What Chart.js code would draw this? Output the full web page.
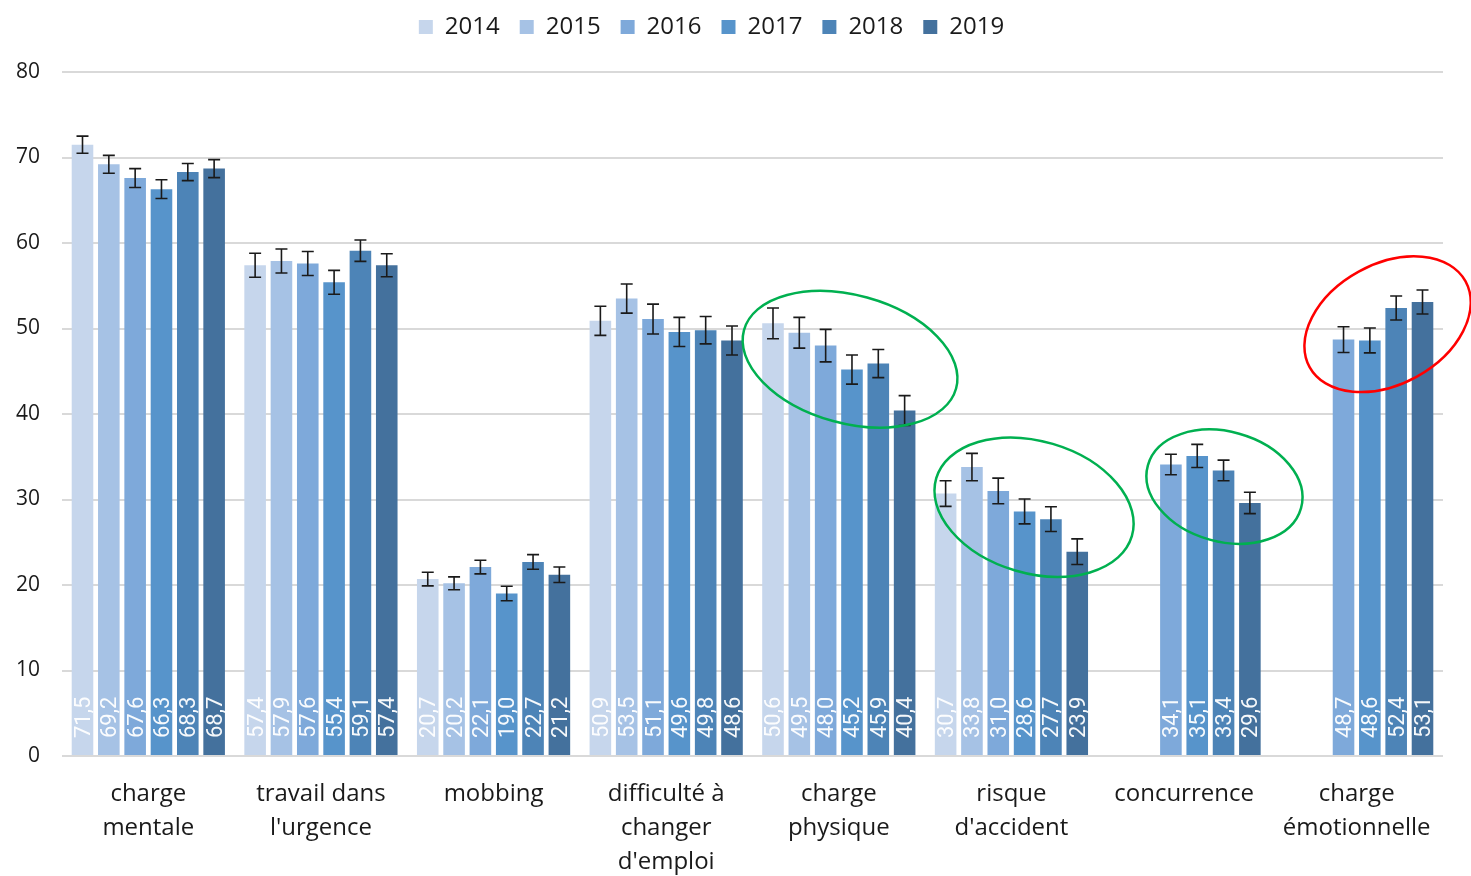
<!DOCTYPE html>
<html lang="fr">
<head>
<meta charset="utf-8">
<title>Contraintes de travail 2014-2019</title>
<script src="https://cdn.jsdelivr.net/npm/chart.js@4"></script>
<style>
    html, body { margin: 0; padding: 0; background: #ffffff; }
    #contenedor { width: 1471px; height: 876px; position: relative; }
</style>
</head>
<body>
<div id="contenedor"><canvas id="grafica"></canvas></div>
<script>
// Catégories (axe horizontal)
const categories = [
    ['charge', 'mentale'],
    ['travail dans', "l'urgence"],
    'mobbing',
    ['difficulté à', 'changer', "d'emploi"],
    ['charge', 'physique'],
    ['risque', "d'accident"],
    'concurrence',
    ['charge', 'émotionnelle']
];

const annees = ['2014', '2015', '2016', '2017', '2018', '2019'];

// Valeurs par année (null = pas de donnée)
const valeurs2014 = [71.5, 57.4, 20.7, 50.9, 50.6, 30.7, null, null];
const valeurs2015 = [69.2, 57.9, 20.2, 53.5, 49.5, 33.8, null, null];
const valeurs2016 = [67.6, 57.6, 22.1, 51.1, 48.0, 31.0, 34.1, 48.7];
const valeurs2017 = [66.3, 55.4, 19.0, 49.6, 45.2, 28.6, 35.1, 48.6];
const valeurs2018 = [68.3, 59.1, 22.7, 49.8, 45.9, 27.7, 33.4, 52.4];
const valeurs2019 = [68.7, 57.4, 21.2, 48.6, 40.4, 23.9, 29.6, 53.1];

// Demi-largeur des intervalles de confiance
const erreurs2014 = [1.0, 1.4, 0.8, 1.7, 1.8, 1.5, null, null];
const erreurs2015 = [1.05, 1.4, 0.75, 1.7, 1.8, 1.6, null, null];
const erreurs2016 = [1.1, 1.4, 0.8, 1.75, 1.9, 1.5, 1.2, 1.5];
const erreurs2017 = [1.1, 1.4, 0.85, 1.7, 1.7, 1.45, 1.35, 1.45];
const erreurs2018 = [1.0, 1.25, 0.85, 1.6, 1.65, 1.45, 1.2, 1.4];
const erreurs2019 = [1.05, 1.35, 0.9, 1.7, 1.75, 1.5, 1.25, 1.4];

// Graduations de l'axe vertical
const ticksY = [0, 10, 20, 30, 40, 50, 60, 70, 80];

const valeurs = [valeurs2014, valeurs2015, valeurs2016, valeurs2017, valeurs2018, valeurs2019];
const erreurs = [erreurs2014, erreurs2015, erreurs2016, erreurs2017, erreurs2018, erreurs2019];
const couleurs = ['#c6d6ec', '#a6c2e5', '#7ea9da', '#5794cb', '#4d84b7', '#44719d'];

// Ellipses d'annotation (centre en index de catégorie / valeur, rayons en px)
const ellipses = [
    { x: 4.065, y: 46.4, rx: 110, ry: 64, angle: 15.4, couleur: '#00b050' },
    { x: 5.131, y: 29.1, rx: 102, ry: 66, angle: 16.5, couleur: '#00b050' },
    { x: 6.234, y: 31.5, rx: 79.5, ry: 55, angle: 15.6, couleur: '#00b050' },
    { x: 7.179, y: 50.5, rx: 89, ry: 60, angle: -28.8, couleur: '#ff0000' }
];

// Barres d'erreur + étiquettes de valeur verticales
const pluginErreurs = {
    id: 'barresErreur',
    afterDatasetsDraw(chart) {
        const ctx = chart.ctx;
        const echelleY = chart.scales.y;
        chart.data.datasets.forEach((ds, i) => {
            const meta = chart.getDatasetMeta(i);
            meta.data.forEach((barre, j) => {
                const v = ds.data[j];
                if (v === null || v === undefined) return;

                // étiquette
                ctx.save();
                ctx.translate(barre.x + 2, echelleY.bottom - 18);
                ctx.rotate(-Math.PI / 2);
                ctx.fillStyle = 'rgba(255,255,255,0.95)';
                ctx.font = '22px Roboto';
                ctx.textAlign = 'left';
                ctx.textBaseline = 'middle';
                ctx.fillText(v.toFixed(1).replace('.', ','), 0, 0);
                ctx.restore();

                // erreur
                const e = ds.erreurs[j];
                if (!e) return;
                const haut = echelleY.getPixelForValue(v + e);
                const bas = echelleY.getPixelForValue(v - e);
                ctx.save();
                ctx.strokeStyle = '#1a1a1a';
                ctx.lineWidth = 1.6;
                ctx.beginPath();
                ctx.moveTo(barre.x, haut);
                ctx.lineTo(barre.x, bas);
                ctx.moveTo(barre.x - 6, haut);
                ctx.lineTo(barre.x + 6, haut);
                ctx.moveTo(barre.x - 6, bas);
                ctx.lineTo(barre.x + 6, bas);
                ctx.stroke();
                ctx.restore();
            });
        });
    }
};

const pluginEllipses = {
    id: 'ellipses',
    afterDraw(chart) {
        const ctx = chart.ctx;
        ellipses.forEach(el => {
            const cx = chart.scales.x.getPixelForValue(el.x);
            const cy = chart.scales.y.getPixelForValue(el.y);
            ctx.save();
            ctx.strokeStyle = el.couleur;
            ctx.lineWidth = 2.5;
            ctx.beginPath();
            ctx.ellipse(cx, cy, el.rx, el.ry, el.angle * Math.PI / 180, 0, Math.PI * 2);
            ctx.stroke();
            ctx.restore();
        });
    }
};

// Hauteur fixe de la légende, dessinée un peu plus haut
const pluginLegende = {
    id: 'hauteurLegende',
    beforeInit(chart) {
        const legende = chart.legend;
        const fitOriginal = legende.fit;
        legende.fit = function () {
            fitOriginal.bind(legende)();
            this.height = 72;
        };
        const drawOriginal = legende.draw;
        legende.draw = function () {
            const c = chart.ctx;
            c.save();
            c.translate(-10, -5);
            drawOriginal.bind(legende)();
            c.restore();
        };
    }
};

const ctx = document.getElementById('grafica').getContext('2d');
new Chart(ctx, {
    type: 'bar',
    data: {
        labels: categories,
        datasets: annees.map((a, i) => ({
            label: a,
            data: valeurs[i],
            erreurs: erreurs[i],
            backgroundColor: couleurs[i],
            borderWidth: 0,
            categoryPercentage: 0.915,
            barPercentage: 0.82
        }))
    },
    options: {
        responsive: true,
        maintainAspectRatio: false,
        animation: false,
        layout: { padding: { left: 0, right: 28, top: 0, bottom: 0 } },
        plugins: {
            legend: {
                position: 'top',
                labels: {
                    color: '#1a1a1a',
                    font: { family: 'Open Sans', size: 24 },
                    boxWidth: 14,
                    boxHeight: 14,
                    padding: 20
                }
            },
            tooltip: { enabled: false }
        },
        scales: {
            x: {
                grid: { display: false },
                border: { display: false },
                ticks: {
                    color: '#1a1a1a',
                    font: { family: 'Open Sans', size: 24, lineHeight: 1.42 },
                    maxRotation: 0,
                    autoSkip: false,
                    padding: 13
                },
                afterFit: s => { s.height = 120; }
            },
            y: {
                min: 0,
                max: 80,
                afterBuildTicks: s => { s.ticks = ticksY.map(v => ({ value: v })); },
                grid: { color: '#d9d9d9', lineWidth: 2, drawTicks: false },
                border: { display: false },
                ticks: {
                    color: '#1a1a1a',
                    font: { family: 'Open Sans', size: 21 },
                    padding: 22
                },
                afterFit: s => { s.width = 62; }
            }
        }
    },
    plugins: [pluginLegende, pluginErreurs, pluginEllipses]
});
</script>
</body>
</html>
